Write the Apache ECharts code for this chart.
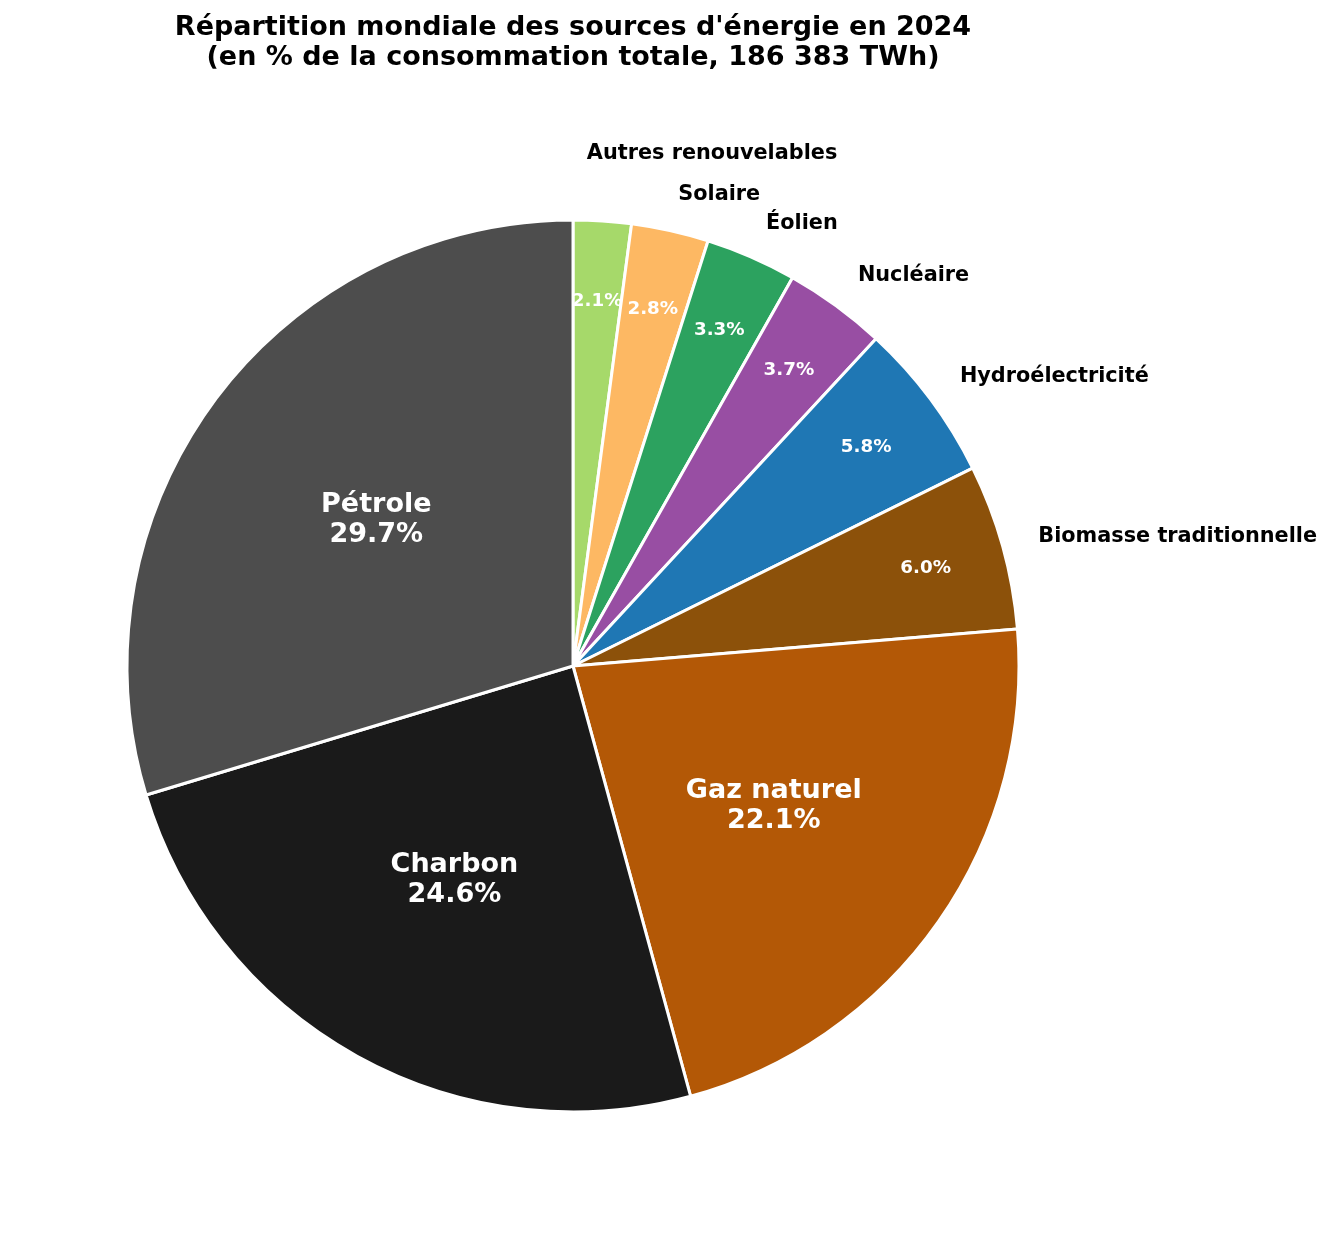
<!DOCTYPE html>
<html>
<head>
<meta charset="utf-8">
<script src="https://cdn.jsdelivr.net/npm/echarts@6/dist/echarts.min.js"></script>
<style>
  html, body { margin: 0; padding: 0; background: #fff; }
  #main { width: 1332px; height: 1240px; }
</style>
</head>
<body>
<div id="main"></div>
<script>
// données : part de chaque source (%), ordre horaire depuis le haut
var sources = ['Autres renouvelables', 'Solaire', 'Éolien', 'Nucléaire', 'Hydroélectricité',
               'Biomasse traditionnelle', 'Gaz naturel', 'Charbon', 'Pétrole'];
var parts = [2.1, 2.8, 3.3, 3.7, 5.8, 6.0, 22.1, 24.6, 29.7];
var couleurs = ['#a6d96a', '#fdb863', '#2ca25f', '#984ea3', '#1f77b4',
                '#8c510a', '#b35806', '#1a1a1a', '#4d4d4d'];
var grandes = ['Gaz naturel', 'Charbon', 'Pétrole']; // étiquettes à l'intérieur

var total = parts.reduce(function (a, b) { return a + b; }, 0);
function pct(v) {
    return (v / total * 100).toFixed(1) + '%';
}

var font = 'DejaVu Sans';
var cx = 573, cy = 666, R = 446;

// pie visible + noms à l'extérieur des petites parts
var dataPie = sources.map(function (n, i) {
    var small = grandes.indexOf(n) < 0;
    var item = {
        name: n,
        value: parts[i],
        itemStyle: { color: couleurs[i] },
        label: { show: small },
        labelLine: { length: 37, length2: 0 }
    };
    if (n === 'Autres renouvelables') {
        item.labelLine = { length: 68, length2: -20 };
    }
    return item;
});

// calque transparent pour "nom + %" des grandes parts
var dataGrandes = sources.map(function (n, i) {
    return {
        name: n,
        value: parts[i],
        label: { show: grandes.indexOf(n) >= 0 }
    };
});

// calque transparent pour les % des petites parts
var dataPetites = sources.map(function (n, i) {
    return {
        name: n,
        value: parts[i],
        label: { show: grandes.indexOf(n) < 0 }
    };
});

var option = {
    backgroundColor: '#fff',
    animation: false,
    title: {
        text: "Répartition mondiale des sources d'énergie en 2024\n(en % de la consommation totale, 186 383 TWh)",
        left: cx - 5,
        top: 8,
        textAlign: 'center',
        textStyle: {
            fontFamily: font,
            fontWeight: 'bold',
            fontSize: 27,
            lineHeight: 30,
            color: '#000'
        }
    },
    series: [
        {
            type: 'pie',
            center: [cx, cy],
            radius: R,
            startAngle: 90,
            clockwise: true,
            avoidLabelOverlap: false,
            silent: true,
            itemStyle: { borderColor: '#fff', borderWidth: 3 },
            label: {
                position: 'outside',
                distanceToLabelLine: 0,
                fontFamily: font,
                fontWeight: 'bold',
                fontSize: 20.8,
                color: '#000',
                formatter: '{b}'
            },
            labelLine: { show: false },
            data: dataPie
        },
        {
            type: 'pie',
            center: [cx, cy],
            radius: [0, 484],
            startAngle: 90,
            clockwise: true,
            avoidLabelOverlap: false,
            silent: true,
            itemStyle: { color: 'transparent', borderWidth: 0 },
            label: {
                position: 'inside',
                fontFamily: font,
                fontWeight: 'bold',
                fontSize: 27,
                lineHeight: 30,
                color: '#fff',
                formatter: function (p) { return p.name + '\n' + pct(p.value); }
            },
            labelLine: { show: false },
            data: dataGrandes
        },
        {
            type: 'pie',
            center: [cx, cy],
            radius: [280, 446],
            startAngle: 90,
            clockwise: true,
            avoidLabelOverlap: false,
            silent: true,
            itemStyle: { color: 'transparent', borderWidth: 0 },
            label: {
                position: 'inside',
                fontFamily: font,
                fontWeight: 'bold',
                fontSize: 18.3,
                color: '#fff',
                formatter: function (p) { return pct(p.value); }
            },
            labelLine: { show: false },
            data: dataPetites
        }
    ]
};

var chart = echarts.init(document.getElementById('main'));
chart.setOption(option);
</script>
</body>
</html>
